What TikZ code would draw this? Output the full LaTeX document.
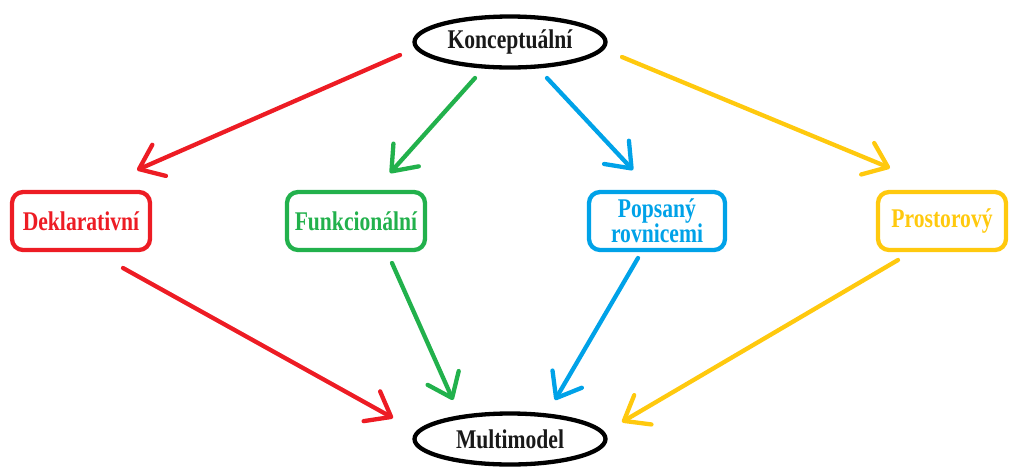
\documentclass[tikz,border=0pt]{standalone}
\usepackage{fontspec}
\setmainfont{Liberation Serif}[FakeStretch=0.8]
\usetikzlibrary{arrows.meta,shapes.geometric,calc}
\definecolor{pred}{RGB}{237,28,36}
\definecolor{pgreen}{RGB}{34,177,76}
\definecolor{pblue}{RGB}{0,162,232}
\definecolor{pyellow}{RGB}{255,201,14}
\tikzset{
  txt/.style={font=\fontsize{27}{25}\selectfont\bfseries, align=center},
  oval/.style={ellipse, draw=black, line width=4.3pt, txt, minimum width=191pt, minimum height=51pt, inner sep=0pt, text=black!90},
  cbox/.style={rectangle, rounded corners=11pt, line width=4.3pt, txt, minimum height=58pt, inner sep=0pt},
  conn/.style={line width=4.3pt, line cap=round, -{Straight Barb[length=22pt,width=34pt,line cap=round,line join=round]}},
}
\begin{document}
\begin{tikzpicture}[x=1pt,y=-1pt]
\useasboundingbox (0,0) rectangle (1010,467);
\node[oval] (k) at (510,42) {Konceptuální};
\node[oval] (m) at (510,439) {Multimodel};
\node[cbox, draw=pred, text=pred, minimum width=138pt] (d) at (81,221) {Deklarativní};
\node[cbox, draw=pgreen, text=pgreen, minimum width=138pt] (f) at (356,221) {Funkcionální};
\node[cbox, draw=pblue, text=pblue, minimum width=136pt] (p) at (657,221) {Popsaný\\rovnicemi};
\node[cbox, draw=pyellow, text=pyellow, minimum width=128pt] (s) at (942,221) {Prostorový};
\draw[conn, pred] ($(k)+(-110,13)$) -- ($(d)+(56,-51)$);
\draw[conn, pgreen] ($(k)+(-35,36)$) -- ($(f)+(34,-48)$);
\draw[conn, pblue] ($(k)+(37,36)$) -- ($(p)+(-24,-51)$);
\draw[conn, pyellow] ($(k)+(112,15)$) -- ($(s)+(-52,-53)$);
\draw[conn, pred] ($(d)+(42,47)$) -- ($(m)+(-117,-21)$);
\draw[conn, pgreen] ($(f)+(36,42)$) -- ($(m)+(-57,-39)$);
\draw[conn, pblue] ($(p)+(-19,37)$) -- ($(m)+(45,-39)$);
\draw[conn, pyellow] ($(s)+(-44,39)$) -- ($(m)+(112,-17)$);
\end{tikzpicture}
\end{document}
